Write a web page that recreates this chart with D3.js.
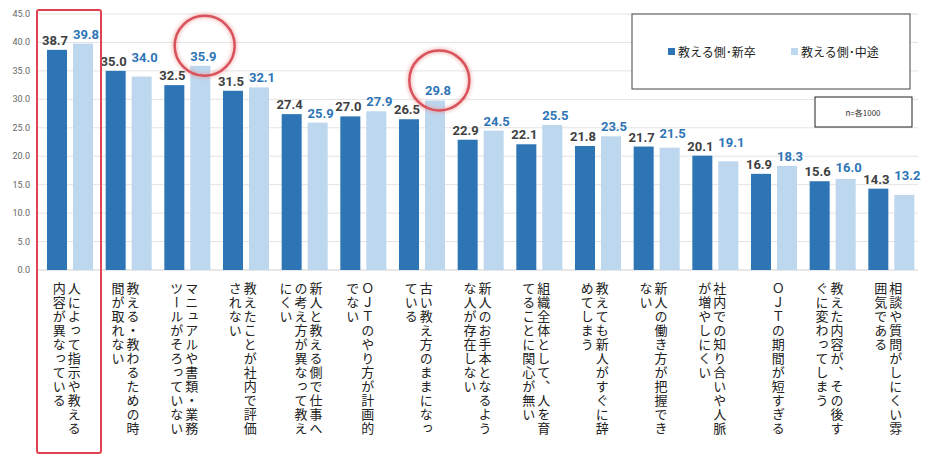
<!DOCTYPE html>
<html><head><meta charset="utf-8">
<script src="https://cdn.jsdelivr.net/npm/d3@7"></script>
<style>body{margin:0;background:#fff;font-family:"Noto Sans CJK JP","Noto Sans",sans-serif}</style>
</head><body>
<script>
const categories = [
  "人によって指示や教える内容が異なっている",
  "教える・教わるための時間が取れない",
  "マニュアルや書類・業務ツールがそろっていない",
  "教えたことが社内で評価されない",
  "新人と教える側で仕事への考え方が異なって教えにくい",
  "ＯＪＴのやり方が計画的でない",
  "古い教え方のままになっている",
  "新人のお手本となるような人が存在しない",
  "組織全体として、人を育てることに関心が無い",
  "教えても新人がすぐに辞めてしまう",
  "新人の働き方が把握できない",
  "社内での知り合いや人脈が増やしにくい",
  "ＯＪＴの期間が短すぎる",
  "教えた内容が、その後すぐに変わってしまう",
  "相談や質問がしにくい雰囲気である"
];
const shinsotsu = [38.7,35.0,32.5,31.5,27.4,27.0,26.5,22.9,22.1,21.8,21.7,20.1,16.9,15.6,14.3];
const chuto = [39.8,34.0,35.9,32.1,25.9,27.9,29.8,24.5,25.5,23.5,21.5,19.1,18.3,16.0,13.2];
const seriesNames = ["教える側･新卒","教える側･中途"];
const yTicks = [0,5,10,15,20,25,30,35,40,45];
const colors = ["#2e75b6","#bdd7ee"];

const W=930,H=460;
const svg=d3.select("body").append("svg").attr("width",W).attr("height",H);
const x=d3.scaleBand().domain(d3.range(categories.length)).range([38,918]);
const y=d3.scaleLinear().domain([0,45]).range([270,14]);

svg.append("g").selectAll("line").data(yTicks).join("line")
  .attr("x1",38).attr("x2",918).attr("y1",d=>y(d)).attr("y2",d=>y(d))
  .attr("stroke",d=>d===0?"#d0d0d0":"#e4e4e4").attr("stroke-width",1);
svg.append("g").selectAll("text").data(yTicks).join("text")
  .attr("x",30).attr("y",d=>y(d)+3).attr("text-anchor","end")
  .attr("font-size",9).attr("fill","#666").attr("font-family","Roboto,sans-serif")
  .text(d=>d.toFixed(1));

const bw=20;
const series=[shinsotsu,chuto];
series.forEach((vals,si)=>{
  const off = si===0 ? 9 : 35;
  svg.append("g").selectAll("rect").data(vals).join("rect")
    .attr("x",(d,i)=>x(i)+off).attr("width",bw)
    .attr("y",d=>y(d)).attr("height",d=>y(0)-y(d)).attr("fill",colors[si]);
  svg.append("g").selectAll("text").data(vals).join("text")
    .attr("x",(d,i)=>x(i)+off+bw/2+(si===0?-2:3)).attr("y",(d,i)=>{
      let base=y(d)-5;
      if(si===1 && Math.abs(chuto[i]-shinsotsu[i])<1.5) base=Math.min(base,y(shinsotsu[i])-9);
      return base;})
    .attr("text-anchor","middle").attr("font-size",13).attr("font-weight","bold")
    .attr("font-family","Roboto,sans-serif")
    .attr("fill",si===0?"#404040":"#2e75b6").text(d=>d.toFixed(1));
});

// vertical category labels, 11 chars per column
const cg=svg.append("g");
categories.forEach((c,i)=>{
  const cols=[];
  for(let s=0;s<c.length;s+=11) cols.push(c.slice(s,s+11));
  const cx=x(i)+x.bandwidth()/2;
  const start = cols.length===3 ? 14 : 7;
  cols.forEach((t,k)=>{
    cg.append("text").attr("x",cx+start-15*k).attr("y",282)
      .attr("writing-mode","vertical-rl").attr("font-size",13)
      .attr("fill","#222").attr("letter-spacing",1).text(t);
  });
});

// highlights
svg.append("rect").attr("x",37).attr("y",10).attr("width",64).attr("height",443)
  .attr("fill","none").attr("stroke","#e0424f").attr("stroke-width",2).attr("rx",2);
[2,6].forEach(i=>{
  svg.append("circle").attr("cx",x(i)+x.bandwidth()/2+20).attr("cy",y(chuto[i])-20)
    .attr("r",30).attr("fill","none").attr("stroke","#d9535c").attr("stroke-width",2.5)
    .style("filter","drop-shadow(0 0 2px #e88)");
});

// legend
svg.append("rect").attr("x",632).attr("y",14).attr("width",278).attr("height",75)
  .attr("fill","#fff").attr("stroke","#444").attr("stroke-width",1);
seriesNames.forEach((n,k)=>{
  const lx=668+k*123;
  svg.append("rect").attr("x",lx).attr("y",48).attr("width",7).attr("height",7).attr("fill",colors[k]);
  svg.append("text").attr("x",lx+10).attr("y",57).attr("font-size",12).attr("fill","#222").text(n);
});
svg.append("rect").attr("x",815).attr("y",97).attr("width",97).attr("height",30)
  .attr("fill","#fff").attr("stroke","#222");
svg.append("text").attr("x",863).attr("y",116).attr("text-anchor","middle")
  .attr("font-size",8).attr("fill","#333").text("n=各1000");
</script>
</body></html>
